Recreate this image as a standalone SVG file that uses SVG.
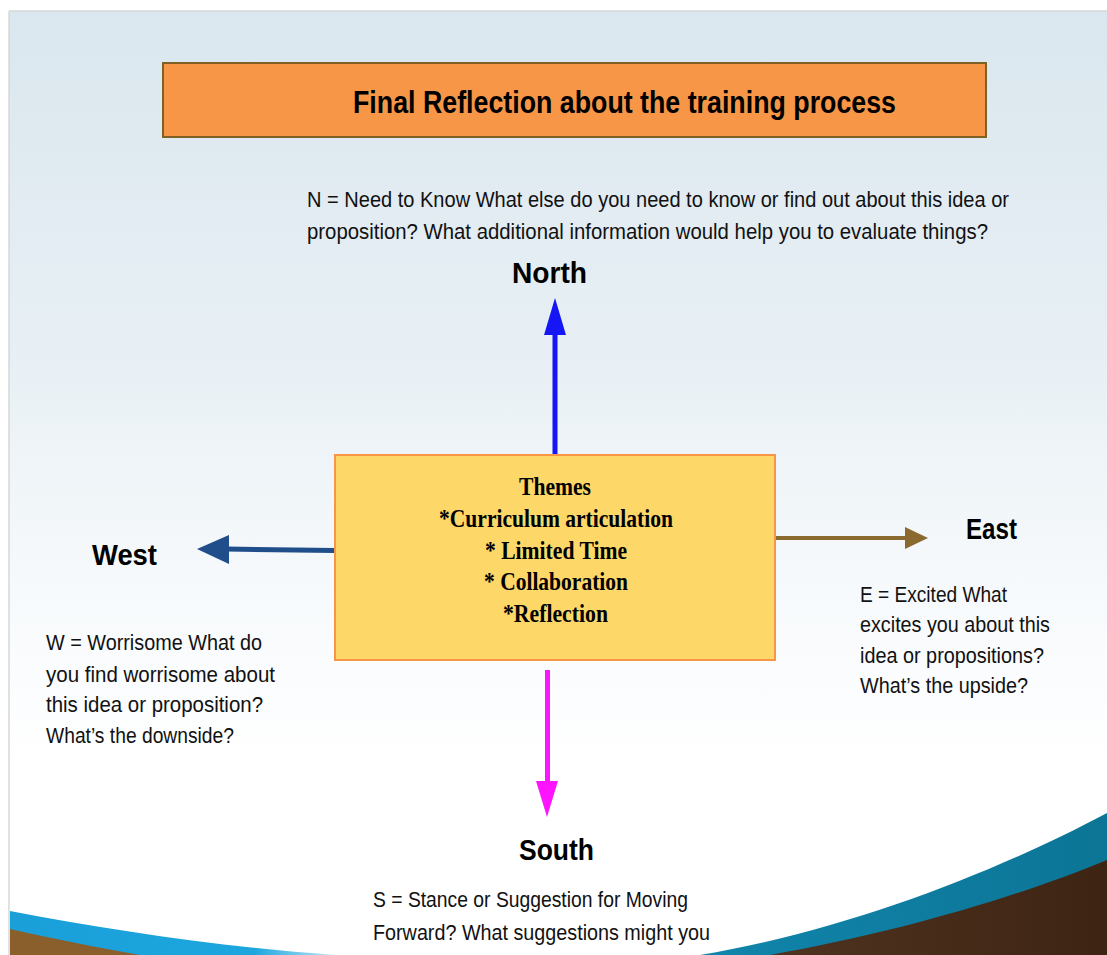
<svg xmlns="http://www.w3.org/2000/svg" width="1107" height="955" viewBox="0 0 1107 955">
  <defs>
    <linearGradient id="bg" x1="0" y1="0" x2="0" y2="1">
      <stop offset="0" stop-color="#dae7ee"/>
      <stop offset="0.35" stop-color="#e7eff4"/>
      <stop offset="0.62" stop-color="#f7fafc"/>
      <stop offset="0.8" stop-color="#ffffff"/>
    </linearGradient>
    <linearGradient id="blueBand" x1="0" y1="0" x2="1" y2="0">
      <stop offset="0" stop-color="#1a9fd9"/>
      <stop offset="0.75" stop-color="#1ca6de"/>
      <stop offset="1" stop-color="#bfe6f5"/>
    </linearGradient>
    <linearGradient id="darkBrown" x1="0" y1="0" x2="1" y2="0">
      <stop offset="0" stop-color="#4f3320"/>
      <stop offset="1" stop-color="#3e2413"/>
    </linearGradient>
    <linearGradient id="teal" x1="0" y1="0" x2="1" y2="0">
      <stop offset="0" stop-color="#1185ab"/>
      <stop offset="1" stop-color="#0c7596"/>
    </linearGradient>
    <style>
      .body { font-family: "Liberation Sans", Arial, sans-serif; font-size: 22px; fill: #111; }
      .dir { font-family: "Liberation Sans", Arial, sans-serif; font-size: 30px; font-weight: bold; fill: #000; }
      .theme { font-family: "Liberation Serif", "Times New Roman", serif; font-size: 25px; font-weight: bold; fill: #000; }
      .title { font-family: "Liberation Sans", Arial, sans-serif; font-size: 31px; font-weight: bold; fill: #000; }
    </style>
  </defs>

  <!-- page and slide background -->
  <rect x="0" y="0" width="1107" height="955" fill="#ffffff"/>
  <rect x="9" y="11" width="1098" height="944" fill="url(#bg)"/>
  <line x1="9" y1="11" x2="1107" y2="11" stroke="#d4d7da" stroke-width="1.5"/>
  <line x1="9" y1="11" x2="9" y2="955" stroke="#d4d7da" stroke-width="1.5"/>

  <!-- decorative bottom swooshes -->
  <g id="swoosh-left">
    <path d="M10 911 C 110 930, 220 947, 335 955 L 10 955 Z" fill="url(#blueBand)"/>
    <path d="M10 929 C 55 939, 95 947, 140 955 L 10 955 Z" fill="#8a5f2b"/>
  </g>
  <g id="swoosh-right">
    <path d="M700 955 C 850 930, 1000 870, 1107 813 L 1107 955 Z" fill="url(#teal)"/>
    <path d="M770 955 C 900 932, 1020 896, 1107 860 L 1107 955 Z" fill="url(#darkBrown)"/>
  </g>

  <!-- title banner -->
  <g id="title">
    <rect x="163" y="63" width="823" height="74" fill="#f79646" stroke="#7f6126" stroke-width="2"/>
    <text class="title" x="353" y="113" textLength="543" lengthAdjust="spacingAndGlyphs">Final Reflection about the training process</text>
  </g>

  <!-- connectors -->
  <g id="connectors">
    <line x1="555" y1="455" x2="555" y2="333" stroke="#1515f5" stroke-width="5"/>
    <polygon points="555,298 544,335 566,335" fill="#1515f5"/>

    <line x1="547.5" y1="670" x2="547.5" y2="783" stroke="#ff14ff" stroke-width="5"/>
    <polygon points="536,781 558,781 547,817" fill="#ff14ff"/>

    <line x1="335" y1="550.5" x2="226" y2="549" stroke="#1f4e8a" stroke-width="5"/>
    <polygon points="197,549 229,535 229,564" fill="#1f4e8a"/>

    <line x1="775" y1="538" x2="907" y2="538" stroke="#8a6a2e" stroke-width="4"/>
    <polygon points="905,527 928,538 905,549" fill="#8a6a2e"/>
  </g>

  <!-- central themes box -->
  <g id="themes">
    <rect x="335" y="455" width="440" height="205" fill="#fdd868" stroke="#f79646" stroke-width="2"/>
    <text class="theme" x="519" y="495" textLength="72" lengthAdjust="spacingAndGlyphs">Themes</text>
    <text class="theme" x="439" y="527" textLength="234" lengthAdjust="spacingAndGlyphs">*Curriculum articulation</text>
    <text class="theme" x="485" y="559" textLength="142" lengthAdjust="spacingAndGlyphs">* Limited Time</text>
    <text class="theme" x="484" y="590" textLength="144" lengthAdjust="spacingAndGlyphs">* Collaboration</text>
    <text class="theme" x="503" y="622" textLength="105" lengthAdjust="spacingAndGlyphs">*Reflection</text>
  </g>

  <!-- north -->
  <g id="north">
    <text class="body" x="307" y="207" textLength="702" lengthAdjust="spacingAndGlyphs">N = Need to Know What else do you need to know or find out about this idea or</text>
    <text class="body" x="307" y="239" textLength="681" lengthAdjust="spacingAndGlyphs">proposition? What additional information would help you to evaluate things?</text>
    <text class="dir" x="512" y="283" textLength="75" lengthAdjust="spacingAndGlyphs">North</text>
  </g>

  <!-- west -->
  <g id="west">
    <text class="dir" x="92" y="565" textLength="65" lengthAdjust="spacingAndGlyphs">West</text>
    <text class="body" x="46" y="650" textLength="216" lengthAdjust="spacingAndGlyphs">W = Worrisome What do</text>
    <text class="body" x="46" y="682" textLength="229" lengthAdjust="spacingAndGlyphs">you find worrisome about</text>
    <text class="body" x="46" y="712" textLength="217" lengthAdjust="spacingAndGlyphs">this idea or proposition?</text>
    <text class="body" x="46" y="743" textLength="188" lengthAdjust="spacingAndGlyphs">What’s the downside?</text>
  </g>

  <!-- east -->
  <g id="east">
    <text class="dir" x="966" y="539" textLength="51" lengthAdjust="spacingAndGlyphs">East</text>
    <text class="body" x="860" y="602" textLength="147" lengthAdjust="spacingAndGlyphs">E = Excited What</text>
    <text class="body" x="860" y="632" textLength="190" lengthAdjust="spacingAndGlyphs">excites you about this</text>
    <text class="body" x="860" y="663" textLength="184" lengthAdjust="spacingAndGlyphs">idea or propositions?</text>
    <text class="body" x="860" y="693" textLength="168" lengthAdjust="spacingAndGlyphs">What’s the upside?</text>
  </g>

  <!-- south -->
  <g id="south">
    <text class="dir" x="519" y="860" textLength="75" lengthAdjust="spacingAndGlyphs">South</text>
    <text class="body" x="373" y="907" textLength="315" lengthAdjust="spacingAndGlyphs">S = Stance or Suggestion for Moving</text>
    <text class="body" x="373" y="940" textLength="337" lengthAdjust="spacingAndGlyphs">Forward? What suggestions might you</text>
    <text class="body" x="373" y="972" textLength="56" lengthAdjust="spacingAndGlyphs">offer?</text>
  </g>
</svg>
